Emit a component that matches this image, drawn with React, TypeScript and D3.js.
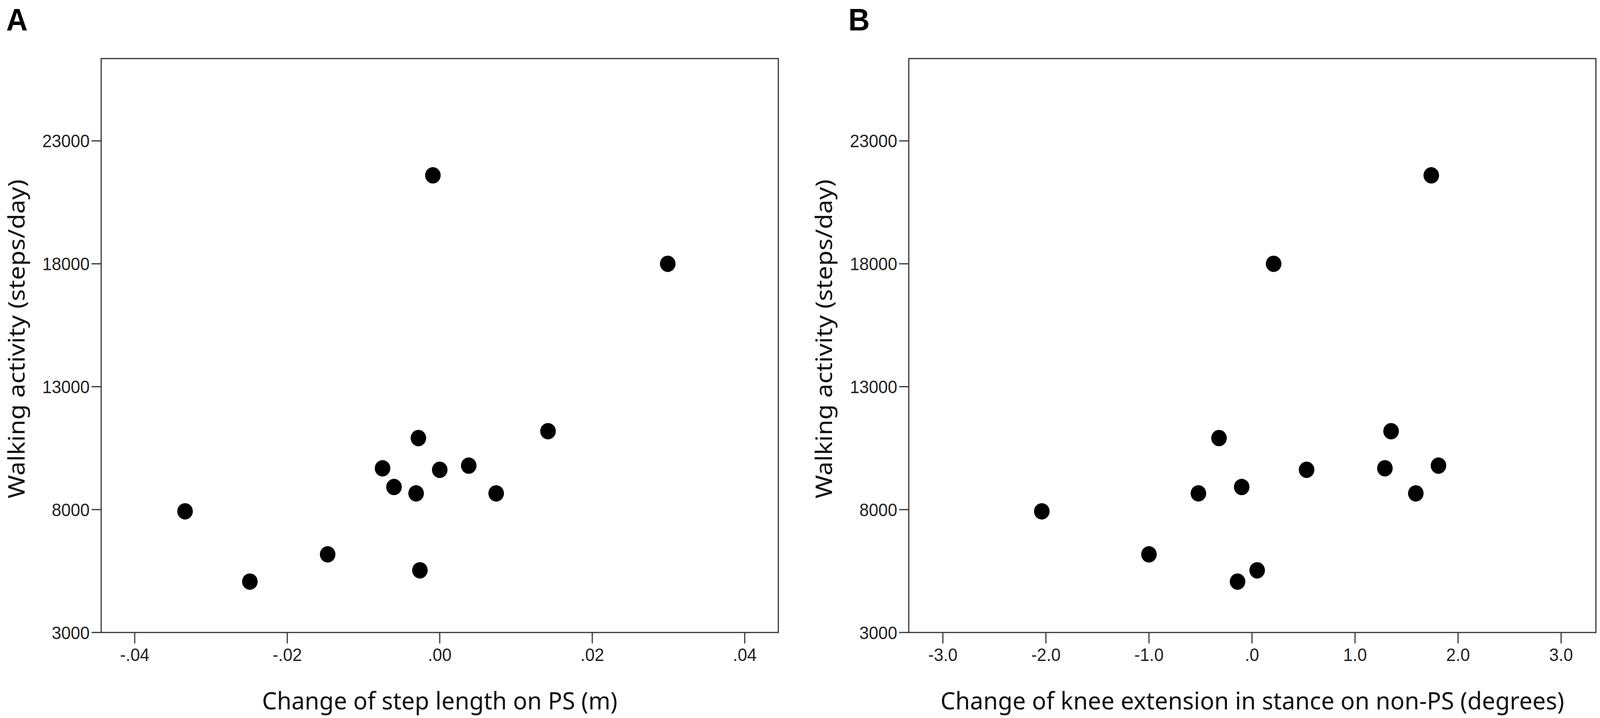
import React from "react";
import * as d3 from "d3";

// Walking activity vs. gait change, two scatter panels (SPSS-style frames)

const stepLengthChange = [
  -0.0334, -0.0249, -0.0147, -0.0075, -0.006, -0.0028, -0.0031, -0.0026, -0.0009, 0.0, 0.0038, 0.0074, 0.0142, 0.0299,
];
const stepsA = [7930, 5070, 6180, 9680, 8920, 10910, 8660, 5530, 21600, 9620, 9790, 8660, 11190, 18000];

const kneeExtChange = [-2.04, -1.0, -0.52, -0.32, -0.14, -0.1, 0.05, 0.21, 0.53, 1.29, 1.35, 1.59, 1.74, 1.81];
const stepsB = [7930, 6180, 8660, 10910, 5070, 8920, 5530, 18000, 9620, 9680, 11190, 8660, 21600, 9790];

const yTicks = [3000, 8000, 13000, 18000, 23000];
const xTicksA = [-0.04, -0.02, 0, 0.02, 0.04];
const xTickLabelsA = ["-.04", "-.02", ".00", ".02", ".04"];
const xTicksB = [-3, -2, -1, 0, 1, 2, 3];
const xTickLabelsB = ["-3.0", "-2.0", "-1.0", ".0", "1.0", "2.0", "3.0"];

const yTitle = "Walking activity (steps/day)";
const xTitleA = "Change of step length on PS (m)";
const xTitleB = "Change of knee extension in stance on non-PS (degrees)";

const W = 4317;
const H = 1839;
const TOP = 150;
const BOTTOM = 1620;
const AXIS = "#333";
const TICK_FONT = "'Liberation Sans Narrow', 'Arial Narrow', 'Liberation Sans', Arial, sans-serif";
const TITLE_FONT = "'Noto Sans', 'DejaVu Sans', sans-serif";

const y = d3.scaleLinear().domain([3000, 26350]).range([BOTTOM, TOP]);

interface PanelProps {
  letter: string;
  letterX: number;
  left: number;
  right: number;
  xDomain: [number, number];
  xs: number[];
  ys: number[];
  ticks: number[];
  tickLabels: string[];
  xTitle: string;
  xTitleWidth: number;
  yTitleX: number;
}

const Panel: React.FC<PanelProps> = ({
  letter, letterX, left, right, xDomain, xs, ys, ticks, tickLabels, xTitle, xTitleWidth, yTitleX,
}) => {
  const x = d3.scaleLinear().domain(xDomain).range([left, right]);
  const cx = (left + right) / 2;
  return (
    <g>
      <text x={letterX} y={78} fontSize={80} fontWeight="bold" fontFamily="'Liberation Sans', Arial, sans-serif">
        {letter}
      </text>

      {/* frame */}
      <rect x={left} y={TOP} width={right - left} height={BOTTOM - TOP} fill="none" stroke={AXIS} strokeWidth={3} />

      {/* y ticks */}
      {yTicks.map((t) => (
        <g key={t}>
          <line x1={left - 26} x2={left} y1={y(t)} y2={y(t)} stroke={AXIS} strokeWidth={3} />
          <text x={left - 31} y={y(t)} dy="0.36em" textAnchor="end" fontSize={46} fontFamily={TICK_FONT} fill="#222">
            {t}
          </text>
        </g>
      ))}

      {/* x ticks */}
      {ticks.map((t, i) => (
        <g key={t}>
          <line x1={x(t)} x2={x(t)} y1={BOTTOM} y2={BOTTOM + 28} stroke={AXIS} strokeWidth={3} />
          <text x={x(t)} y={1693} textAnchor="middle" fontSize={46} fontFamily={TICK_FONT} fill="#222">
            {tickLabels[i]}
          </text>
        </g>
      ))}

      {/* points */}
      {xs.map((v, i) => (
        <circle key={i} cx={x(v)} cy={y(ys[i])} r={21} fill="#000" />
      ))}

      {/* titles */}
      <text
        x={cx}
        y={1817}
        textAnchor="middle"
        fontSize={62}
        fontFamily={TITLE_FONT}
        textLength={xTitleWidth}
        lengthAdjust="spacingAndGlyphs"
        fill="#111"
      >
        {xTitle}
      </text>
      <text
        transform={`translate(${yTitleX},868) rotate(-90)`}
        textAnchor="middle"
        fontSize={62}
        fontFamily={TITLE_FONT}
        textLength={817}
        lengthAdjust="spacingAndGlyphs"
        fill="#111"
      >
        {yTitle}
      </text>
    </g>
  );
};

export default function App() {
  return (
    <svg
      viewBox={`0 0 ${W} ${H}`}
      preserveAspectRatio="none"
      style={{ position: "fixed", left: 0, top: 0, width: "100vw", height: "100vh", background: "#fff" }}
    >
      <rect width={W} height={H} fill="#fff" />
      <Panel
        letter="A"
        letterX={17}
        left={273}
        right={2100}
        xDomain={[-0.0444, 0.0444]}
        xs={stepLengthChange}
        ys={stepsA}
        ticks={xTicksA}
        tickLabels={xTickLabelsA}
        xTitle={xTitleA}
        xTitleWidth={959}
        yTitleX={66}
      />
      <Panel
        letter="B"
        letterX={2289}
        left={2452}
        right={4306}
        xDomain={[-3.331, 3.338]}
        xs={kneeExtChange}
        ys={stepsB}
        ticks={xTicksB}
        tickLabels={xTickLabelsB}
        xTitle={xTitleB}
        xTitleWidth={1683}
        yTitleX={2245}
      />
    </svg>
  );
}
